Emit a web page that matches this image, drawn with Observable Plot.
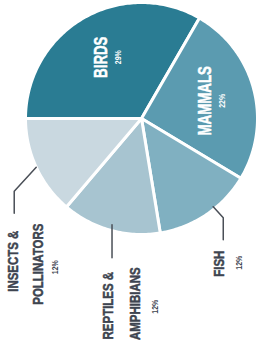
<!DOCTYPE html>
<html><head><meta charset="utf-8">
<script src="https://cdn.jsdelivr.net/npm/d3@7"></script>
<script src="https://cdn.jsdelivr.net/npm/@observablehq/plot@0.6"></script>
<style>html,body{margin:0;padding:0;background:#fff}</style>
</head><body><div id="chart"></div>
<script>
// ---- data ----
const categories = ["BIRDS", "MAMMALS", "FISH", "REPTILES & AMPHIBIANS", "INSECTS & POLLINATORS"];
const shares = [29, 22, 12, 12, 12];
const shareLabels = ["29%", "22%", "12%", "12%", "12%"];
const labelLines = [["BIRDS"], ["MAMMALS"], ["FISH"], ["REPTILES &", "AMPHIBIANS"], ["INSECTS &", "POLLINATORS"]];
const sliceColors = ["#2a7c93", "#5b9bb0", "#80b0c1", "#a7c4d0", "#c9d8e0"];

// ---- layout (pixels) ----
const W = 261, H = 349, CX = 141, CY = 118, R = 116;
const FONT = "'Liberation Sans', Arial, sans-serif";
const NARROW = 0.74; // horizontal compression of the condensed display type
const inside = {0: {r: 0.61, lineDx: [-5], pctDx: 12}, 1: {r: 0.61, lineDx: [-5], pctDx: 12}};
const outside = {
  2: {shift: -5, r: 0.98, elbow: [10, 11], drop: 22, lines: [[-4, 24]], pct: [16, 23]},
  3: {shift: 0, r: 0.95, elbow: [0, 0], drop: 33, lines: [[-4, 48], [23, 46]], pct: [43, 49]},
  4: {shift: 0, r: 1.0, elbow: [-22, 24], drop: 22, lines: [[-1.5, 48], [23.5, 51]], pct: [40.5, 54]}
};

const rows = categories.map((c, i) => ({name: c, value: shares[i], pct: shareLabels[i], lines: labelLines[i]}));
const arcs = d3.pie().sort(null).value(d => d.value).startAngle(-Math.PI / 2).endAngle(1.5 * Math.PI)(rows);

const pt = (a, r) => [r * Math.sin(a), r * Math.cos(a)];
const slicePts = [];
for (const a of arcs) {
  slicePts.push({name: a.data.name, x: 0, y: 0});
  const n = Math.max(2, Math.ceil((a.endAngle - a.startAngle) / (Math.PI / 180)));
  for (let k = 0; k <= n; k++) {
    const t = a.startAngle + (a.endAngle - a.startAngle) * k / n;
    const [x, y] = pt(t, 1);
    slicePts.push({name: a.data.name, x, y});
  }
}

const innerBig = [], innerPct = [], outerBig = [], outerPct = [], leaders = [];
arcs.forEach((a, i) => {
  const mid = (a.startAngle + a.endAngle) / 2;
  if (inside[i]) {
    const L = inside[i];
    const [x, y] = pt(mid, L.r);
    a.data.lines.forEach((t, j) => innerBig.push({x: x + L.lineDx[j] / R, y, text: t}));
    innerPct.push({x: x + L.pctDx / R, y, text: a.data.pct});
  } else {
    const L = outside[i];
    const [x0, y0] = pt(mid + L.shift * Math.PI / 180, L.r);
    const x1 = x0 + L.elbow[0] / R, y1 = y0 - L.elbow[1] / R;
    const x2 = x1, y2 = y1 - L.drop / R;
    leaders.push({name: a.data.name, x: x0, y: y0}, {name: a.data.name, x: x1, y: y1}, {name: a.data.name, x: x2, y: y2});
    a.data.lines.forEach((t, j) => outerBig.push({x: x2 + L.lines[j][0] / R, y: y2 - L.lines[j][1] / R, text: t}));
    outerPct.push({x: x2 + L.pct[0] / R, y: y2 - L.pct[1] / R, text: a.data.pct});
  }
});

const textOpts = {x: "x", y: "y", text: "text", rotate: -90, fontFamily: FONT, fontWeight: "bold", textAnchor: "middle", lineAnchor: "middle"};

const chart = Plot.plot({
  width: W, height: H, margin: 0,
  style: {background: "#fff", fontFamily: FONT},
  x: {axis: null, domain: [-CX / R, (W - CX) / R], range: [0, W]},
  y: {axis: null, domain: [(CY - H) / R, CY / R], range: [H, 0]},
  color: {domain: categories, range: sliceColors},
  marks: [
    Plot.line(slicePts, {x: "x", y: "y", z: "name", fill: "name", stroke: "#fff", strokeWidth: 3, strokeLinejoin: "round", curve: "linear-closed"}),
    Plot.line(leaders, {x: "x", y: "y", z: "name", stroke: "#4a4f57", strokeWidth: 1.5}),
    Plot.text(innerBig, {...textOpts, fill: "#fff", stroke: "#fff", strokeWidth: 0.5, fontSize: 18}),
    Plot.text(innerPct, {...textOpts, fill: "#fff", fontSize: 9.5}),
    Plot.text(outerBig, {...textOpts, fill: "#3e4450", stroke: "#3e4450", strokeWidth: 0.5, fontSize: 15.5}),
    Plot.text(outerPct, {...textOpts, fill: "#3e4450", fontSize: 9.5})
  ]
});
d3.select(chart).selectAll("text").each(function () {
  const t = this.getAttribute("transform");
  if (t) this.setAttribute("transform", t + ` scale(${NARROW},1)`);
});
document.getElementById("chart").appendChild(chart);
</script>
</body></html>
